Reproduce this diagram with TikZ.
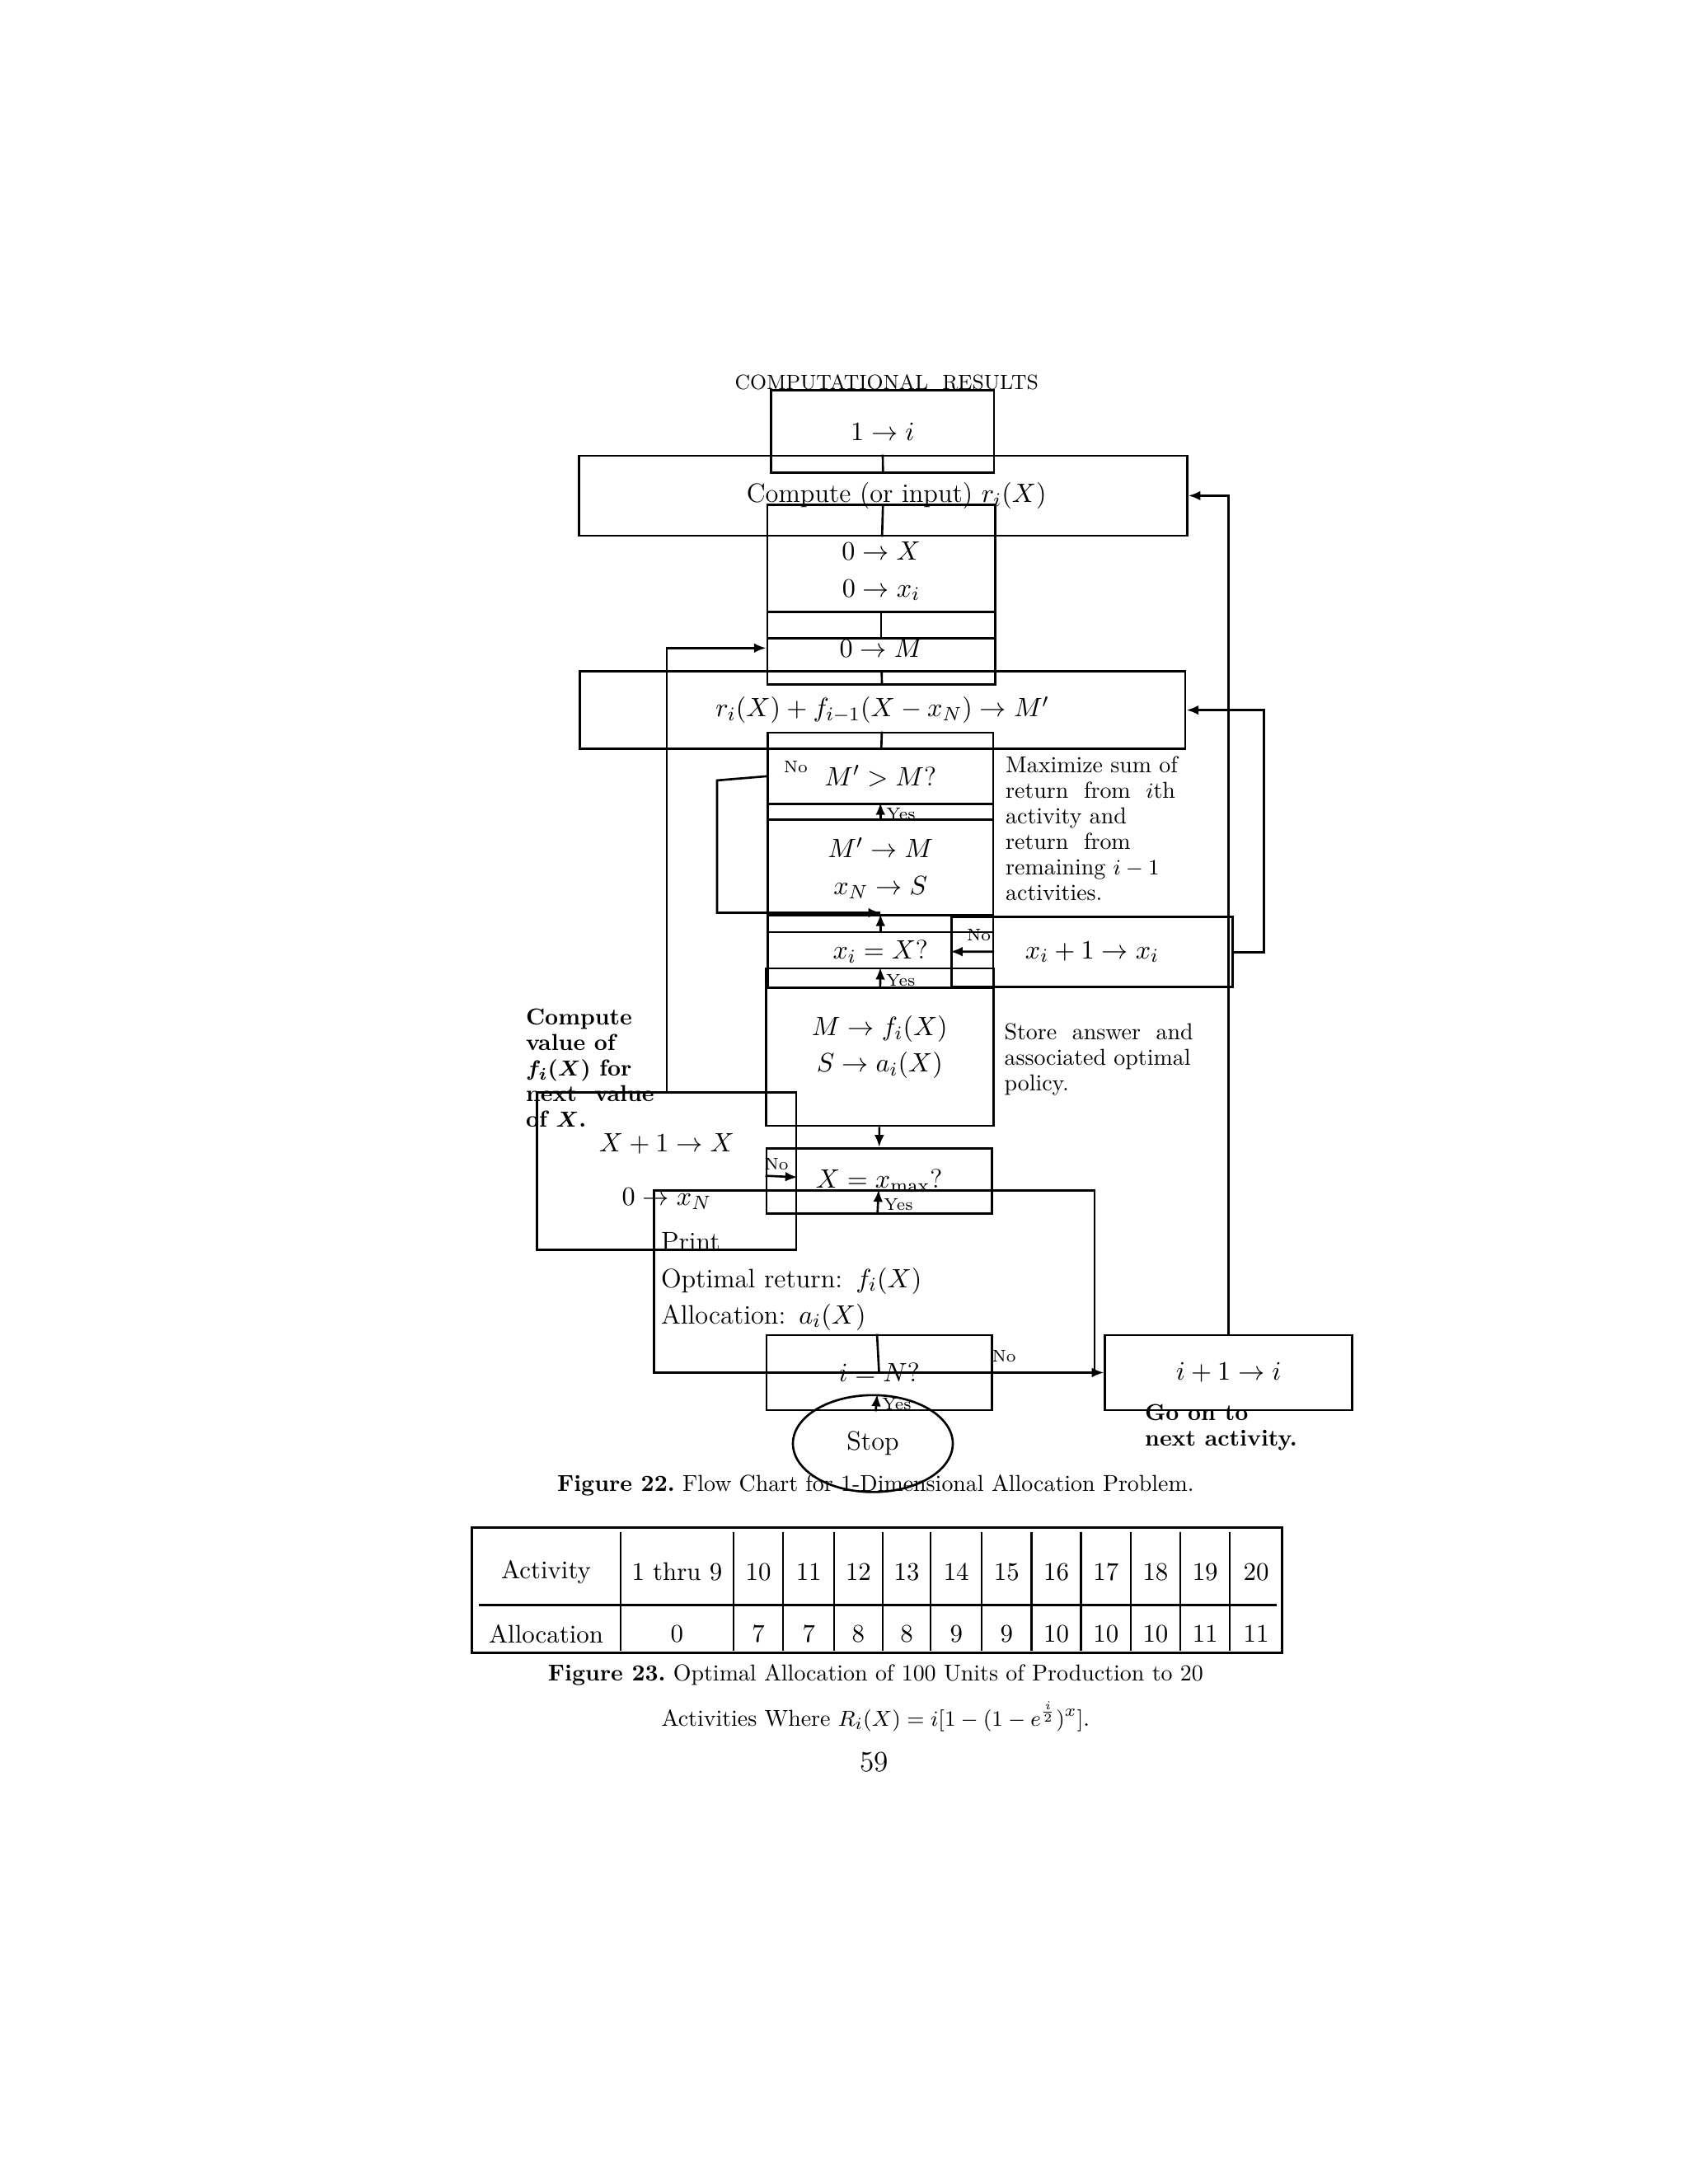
\documentclass[tikz,border=0pt]{standalone}
\usepackage{amsmath,amssymb}
\usetikzlibrary{arrows.meta,shapes.geometric,positioning}
\tikzset{
  box/.style={draw, line width=0.9pt, inner sep=1pt, align=center, font=\fontsize{11}{15}\selectfont},
  tag/.style={font=\fontsize{7}{8}\selectfont, inner sep=0pt},
  note/.style={align=left, anchor=north west, inner sep=0pt, font=\fontsize{9.5}{10.6}\selectfont},
  flow/.style={line width=0.9pt},
  arr/.style={line width=0.9pt, -{Latex[length=5pt,width=4pt]}},
  cell/.style={font=\fontsize{10.5}{12}\selectfont, inner sep=0pt},
}
\begin{document}
\begin{tikzpicture}[x=0.02cm, y=-0.02cm]

   \useasboundingbox (0,0) rectangle (1224,1584);

   % title
   \node[font=\fontsize{8.5}{10}\selectfont] (title) at (643,277) {COMPUTATIONAL\ \ RESULTS};

   % flow chart boxes
   \node[box, minimum width=92, minimum height=34] (one) at (640,313) {$1\to i$};
   \node[box, minimum width=251, minimum height=33] (comp) at (640.5,359.5) {\quad Compute (or input) $r_i(X)$};
   \node[box, minimum width=94, minimum height=55] (zx) at (639,414.5) {$0\to X$\\$0\to x_i$};
   \node[box, minimum width=94, minimum height=30] (zm) at (639,470) {$0\to M$};
   \node[box, minimum width=250, minimum height=32] (rf) at (640,515) {$r_i(X)+f_{i-1}(X-x_N)\to M'$};
   \node[box, minimum width=93, minimum height=36] (cmp) at (638.5,563) {$M'>M$?};
   \node[box, minimum width=93, minimum height=53] (upd) at (638.5,629.5) {$M'\to M$\\$x_N\to S$};
   \node[box, minimum width=93, minimum height=30] (xeq) at (638.5,690) {$x_i=X$?};
   \node[box, minimum width=116, minimum height=29] (xinc) at (792,690.5) {$x_i+1\to x_i$};
   \node[box, minimum width=94, minimum height=65] (store) at (638,759.5) {$M\to f_i(X)$\\$S\to a_i(X)$};
   \node[box, minimum width=93, minimum height=27] (xmax) at (637.5,856.5) {$X=x_{\max}$?};
   \node[box, minimum width=107, minimum height=65, font=\fontsize{11}{22}\selectfont] (xnext) at (483.5,849.5) {$X+1\to X$\\$0\to x_N$};
   \node[box, minimum width=182, minimum height=75, align=left, text width=176] (print) at (634,929.5) {Print\\Optimal return: $f_i(X)$\\Allocation: $a_i(X)$};
   \node[box, minimum width=93, minimum height=31] (ieq) at (637.5,995.5) {$i=N$?};
   \node[box, minimum width=102, minimum height=31] (inext) at (891,995.5) {$i+1\to i$};
   \node[box, ellipse, minimum width=66, minimum height=40] (stop) at (633,1047) {Stop};

   \coordinate (join) at (638.5,662);
   \coordinate (lft) at (520,566);

   % connectors
   \draw[flow] (one) -- (comp);
   \draw[flow] (comp) -- (zx);
   \draw[flow] (zx) -- (zm);
   \draw[flow] (zm) -- (rf);
   \draw[flow] (rf) -- (cmp);
   \draw[arr] (cmp) -- (upd) node[tag, pos=0.4, right=2pt] {Yes};
   \draw[flow] (cmp.west) -- (lft) |- (join);
   \draw[arr] (lft |- join) -- (join);
   \draw[arr] (upd) -- (xeq);
   \draw[arr] (xeq) -- (xinc) node[tag, pos=0.35, above=4pt] {No};
   \draw[arr] (xinc.east) -- ++(22,0) |- (rf.east);
   \draw[arr] (xeq) -- (store) node[tag, pos=0.4, right=2pt] {Yes};
   \draw[arr] (store) -- (xmax);
   \draw[arr] (xmax) -- (xnext) node[tag, pos=0.35, above=2pt] {No};
   \draw[arr] (xnext.north) |- (zm.west);
   \draw[arr] (xmax) -- (print) node[tag, pos=0.4, right=2pt] {Yes};
   \draw[flow] (print) -- (ieq);
   \draw[arr] (ieq) -- (inext) node[tag, pos=0.1, above=4pt] {No};
   \draw[arr] (inext.north) |- (comp.east);
   \draw[arr] (ieq) -- (stop) node[tag, pos=0.4, right=2pt] {Yes};
   \node[tag] (cmpno) at (577,556) {No};

   % notes
   \node[note] (maxnote) at (729,548) {Maximize sum of\\return\ \ from\ \ $i$th\\activity and\\return\ \ from\\remaining $i-1$\\activities.};
   \node[note] (storenote) at (728,742) {Store\ \ answer\ \ and\\associated optimal\\policy.};
   \node[note, font=\fontsize{9.5}{10.6}\bfseries] (xnote) at (381,731) {Compute\\value of\\$\boldsymbol{f_i(X)}$ for\\next\ \ value\\of $\boldsymbol{X}$.};
   \node[note, font=\fontsize{9.5}{10.6}\bfseries] (gonote) at (830,1018) {Go on to\\next activity.};

   \node[font=\fontsize{9.5}{11}\selectfont] (cap22) at (635,1077) {\textbf{Figure 22.}\ Flow Chart for 1-Dimensional Allocation Problem.};

   % table
   \draw[line width=1pt] (342,1108) rectangle (930,1199);
   \draw[line width=1pt] (347,1164) -- (926,1164);
   \foreach \cx in {450,532,568,605,640,675,712,748,784,820,856,892}
      \draw[line width=0.8pt] (\cx,1111) -- (\cx,1197);
   \node[cell] (hact) at (396,1140) {Activity};
   \node[cell] (halloc) at (396,1185) {Allocation};
   \node[cell] (a1) at (491,1140) {1 thru 9};
   \node[cell] (b1) at (491,1185) {0};
   \foreach \lx/\act/\al in {550/10/7, 586.5/11/7, 622.5/12/8, 657.5/13/8, 693.5/14/9, 730/15/9, 766/16/10, 802/17/10, 838/18/10, 874/19/11, 911/20/11} {
      \node[cell] (act\act) at (\lx,1140) {\act};
      \node[cell] (al\act) at (\lx,1185) {\al};
   }

   \node[font=\fontsize{9.5}{11}\selectfont] (cap23a) at (635,1215) {\textbf{Figure 23.}\ Optimal Allocation of 100 Units of Production to 20};
   \node[font=\fontsize{9.5}{11}\selectfont] (cap23b) at (635,1245) {Activities Where $R_i(X)=i[1-(1-e^{\frac{i}{2}})^x]$.};
   \node[font=\fontsize{12}{14}\selectfont] (page) at (634,1278) {59};

\end{tikzpicture}
\end{document}
